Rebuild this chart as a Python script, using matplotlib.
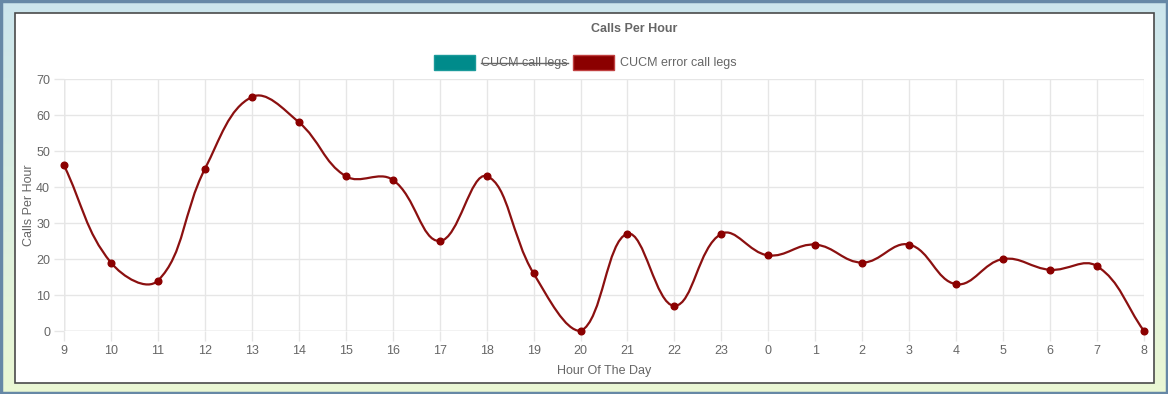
import numpy as np
import matplotlib
matplotlib.use("Agg")
import matplotlib.pyplot as plt
from matplotlib.path import Path
from matplotlib.patches import PathPatch, Rectangle
from matplotlib.lines import Line2D

hours = ["9", "10", "11", "12", "13", "14", "15", "16", "17", "18", "19", "20",
         "21", "22", "23", "0", "1", "2", "3", "4", "5", "6", "7", "8"]
error_legs = [46, 19, 14, 45, 65, 58, 43, 42, 25, 43, 16, 0,
              27, 7, 27, 21, 24, 19, 24, 13, 20, 17, 18, 0]

W, H = 1168, 394
plt.rcParams['font.family'] = ['Liberation Sans', 'DejaVu Sans']
fig = plt.figure(figsize=(W / 100, H / 100), dpi=100)

# gradient background with frame
bg = fig.add_axes([0, 0, 1, 1])
bg.set_axis_off()
top = np.array([0.80, 0.90, 0.93])
bot = np.array([0.92, 0.97, 0.83])
t = np.linspace(0, 1, 200)[:, None]
grad = (top * (1 - t) + bot * t)[:, None, :]
bg.imshow(grad, aspect='auto', extent=[0, W, H, 0])
bg.set_xlim(0, W)
bg.set_ylim(H, 0)
bg.add_patch(Rectangle((1, 1), W - 2, H - 2, fill=False, ec='#6688a6', lw=2.5))
bg.add_patch(Rectangle((14.5, 12.5), 1139, 370, fc='white', ec='#4a4a4a', lw=1.2))

grey = '#666666'
gridc = '#e6e6e6'
x0, x1, y0, y1 = 64, 1144, 79, 331
ax = fig.add_axes([x0 / W, 1 - y1 / H, (x1 - x0) / W, (y1 - y0) / H])
ax.set_facecolor('none')
n = len(hours)
xs = np.arange(n)
ax.set_xlim(0, n - 1)
ax.set_ylim(0, 70)
ax.set_yticks(range(0, 71, 10))
ax.set_xticks(xs)
ax.set_xticklabels(hours)
ax.grid(True, color=gridc, lw=1)
ax.tick_params(colors=gridc, labelcolor=grey, labelsize=9, length=7, width=1, pad=3)
for s in ax.spines.values():
    s.set_visible(False)
ax.axhline(0, color='#d0d0d0', lw=1, zorder=1)
ax.axvline(0, color='#d0d0d0', lw=1, zorder=1)
ax.set_xlabel('Hour Of The Day', color=grey, fontsize=9, labelpad=6)
ax.set_ylabel('Calls Per Hour', color=grey, fontsize=9, labelpad=1)

# chart.js style spline (tension 0.4) in pixel space
pts = ax.transData.transform(np.column_stack([xs, error_legs]))
tension = 0.4
verts = [pts[0]]
codes = [Path.MOVETO]
cps = []
bb = ax.bbox
for i in range(n):
    p = pts[max(i - 1, 0)]
    c = pts[i]
    nx = pts[min(i + 1, n - 1)]
    d01 = np.hypot(*(c - p))
    d12 = np.hypot(*(nx - c))
    tot = d01 + d12
    s01 = d01 / tot if tot else 0
    s12 = d12 / tot if tot else 0
    cp1 = c - tension * s01 * (nx - p)
    cp2 = c + tension * s12 * (nx - p)
    cp1 = np.clip(cp1, [bb.x0, bb.y0], [bb.x1, bb.y1])
    cp2 = np.clip(cp2, [bb.x0, bb.y0], [bb.x1, bb.y1])
    cps.append((cp1, cp2))
for i in range(1, n):
    verts += [cps[i - 1][1], cps[i][0], pts[i]]
    codes += [Path.CURVE4] * 3
dverts = ax.transData.inverted().transform(np.array(verts))
ax.add_patch(PathPatch(Path(dverts, codes), fill=False, ec='#8b1010', lw=1.6,
                       clip_on=False, zorder=3))
ax.plot(xs, error_legs, 'o', ms=4.8, color='#8b0000', clip_on=False, zorder=4)

# title and legend
fig.text(634 / W, 1 - 29.5 / H, 'Calls Per Hour', ha='center', va='center',
         fontsize=9, fontweight='bold', color=grey)
bg.add_patch(Rectangle((434, 55), 41, 15, fc='#008b8b', ec='#1a9a9a', lw=1))
bg.add_patch(Rectangle((573, 55), 41, 15, fc='#8b0000', ec='#c04040', lw=1))
t1 = bg.text(481, 62.5, 'CUCM call legs', ha='left', va='center', fontsize=9, color=grey)
bg.text(620, 62.5, 'CUCM error call legs', ha='left', va='center', fontsize=9, color=grey)
fig.canvas.draw()
ext = t1.get_window_extent()
ymid = (ext.y0 + ext.y1) / 2
fig.add_artist(Line2D([ext.x0 / W, ext.x1 / W], [ymid / H, ymid / H],
                      color=grey, lw=1, transform=fig.transFigure))

fig.savefig('out.png', dpi=100)
